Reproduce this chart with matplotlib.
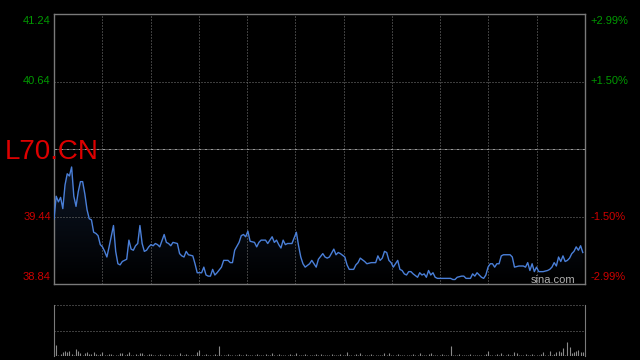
import matplotlib
matplotlib.use("Agg")
import numpy as np
import matplotlib.pyplot as plt
import matplotlib.transforms as mtransforms
from matplotlib.colors import LinearSegmentedColormap

plt.rcParams['font.family'] = ['Liberation Sans', 'DejaVu Sans']

# intraday minute index (0..240) and price
minutes = [0, 1, 2, 3, 4, 5, 6, 7, 8, 9, 10, 11, 12, 13, 14, 15, 16, 17, 18, 19,
           20, 21, 22, 23, 24, 25, 27, 28, 29, 30, 31, 32, 33, 34, 35, 36, 37, 38, 39, 40,
           41, 42, 43, 44, 45, 46, 47, 48, 50, 51, 52, 53, 54, 56, 57, 58, 59, 60, 61, 63,
           64, 65, 66, 67, 68, 69, 70, 71, 72, 73, 74, 76, 77, 79, 80, 81, 82, 84, 85, 86,
           87, 88, 89, 91, 92, 93, 94, 96, 97, 98, 99, 100, 101, 102, 103, 104, 105, 106, 107, 108,
           110, 111, 112, 113, 114, 116, 117, 118, 119, 120, 122, 123, 124, 125, 127, 128, 129, 130, 132, 133,
           134, 136, 137, 138, 139, 141, 142, 144, 146, 147, 148, 149, 150, 151, 152, 153, 154, 156, 157, 158,
           159, 160, 161, 162, 163, 165, 166, 167, 168, 169, 170, 171, 172, 173, 174, 176, 178, 180, 181, 182,
           183, 185, 186, 187, 189, 190, 191, 192, 193, 194, 195, 196, 197, 198, 199, 200, 201, 202, 203, 204,
           206, 207, 208, 209, 211, 213, 214, 215, 216, 217, 218, 219, 220, 222, 224, 225, 226, 227, 228, 229,
           230, 231, 232, 233, 234, 235, 236, 237, 238, 239, 240]
prices = [39.42, 39.62, 39.57, 39.61, 39.51, 39.72, 39.82, 39.80, 39.88, 39.62, 39.53, 39.66, 39.75, 39.75, 39.64, 39.50, 39.42, 39.41, 39.30, 39.29,
          39.27, 39.19, 39.17, 39.13, 39.08, 39.17, 39.36, 39.13, 39.02, 39.01, 39.04, 39.05, 39.06, 39.23, 39.15, 39.14, 39.18, 39.20, 39.36, 39.20,
          39.13, 39.14, 39.17, 39.19, 39.18, 39.20, 39.19, 39.17, 39.28, 39.21, 39.20, 39.18, 39.21, 39.20, 39.11, 39.09, 39.08, 39.13, 39.10, 39.09,
          39.02, 38.94, 38.94, 38.94, 38.99, 38.92, 38.91, 38.91, 38.97, 38.92, 38.94, 38.99, 39.05, 39.05, 39.03, 39.03, 39.14, 39.21, 39.27, 39.28,
          39.26, 39.31, 39.22, 39.21, 39.17, 39.21, 39.23, 39.23, 39.20, 39.23, 39.26, 39.21, 39.23, 39.19, 39.16, 39.23, 39.19, 39.20, 39.20, 39.20,
          39.30, 39.18, 39.08, 39.02, 38.99, 39.02, 39.05, 39.02, 38.99, 39.06, 39.11, 39.08, 39.07, 39.08, 39.15, 39.10, 39.12, 39.11, 39.08, 39.01,
          38.97, 38.97, 39.01, 39.03, 39.07, 39.04, 39.02, 39.03, 39.03, 39.09, 39.05, 39.07, 39.13, 39.12, 39.05, 39.03, 38.99, 39.05, 38.97, 38.96,
          38.93, 38.92, 38.95, 38.95, 38.93, 38.90, 38.94, 38.92, 38.93, 38.90, 38.96, 38.92, 38.94, 38.90, 38.89, 38.89, 38.89, 38.89, 38.88, 38.88,
          38.90, 38.91, 38.91, 38.89, 38.89, 38.93, 38.91, 38.94, 38.92, 38.90, 38.89, 38.92, 38.99, 39.02, 39.02, 38.99, 39.02, 39.02, 39.09, 39.10,
          39.10, 39.10, 39.08, 38.99, 39.00, 39.00, 38.99, 39.03, 38.96, 39.02, 38.95, 38.99, 38.95, 38.95, 38.96, 38.97, 38.99, 39.03, 39.00, 39.08,
          39.04, 39.09, 39.04, 39.05, 39.07, 39.11, 39.13, 39.17, 39.14, 39.18, 39.12]

# per-minute volume (relative units)
volumes = [5, 11, 1, 2, 4, 5, 4, 5, 2, 1, 7, 5, 3, 1, 3, 4, 2, 2, 4, 2,
           1, 2, 4, 1, 1, 2, 2, 1, 1, 1, 3, 3, 1, 2, 4, 1, 1, 2, 1, 3,
           3, 1, 1, 2, 2, 1, 1, 1, 2, 1, 1, 1, 2, 1, 1, 1, 1, 3, 1, 1,
           2, 1, 1, 1, 1, 4, 6, 1, 1, 2, 1, 1, 1, 2, 1, 10, 1, 1, 1, 2,
           1, 1, 1, 1, 2, 1, 1, 2, 1, 1, 1, 1, 2, 1, 1, 1, 2, 1, 1, 3,
           1, 1, 2, 1, 1, 1, 1, 2, 1, 1, 3, 1, 1, 1, 2, 1, 1, 1, 1, 2,
           1, 2, 1, 1, 1, 1, 2, 1, 1, 1, 2, 1, 1, 4, 1, 1, 1, 2, 1, 3,
           1, 1, 1, 1, 2, 1, 1, 1, 1, 1, 3, 1, 3, 1, 1, 1, 2, 1, 1, 1,
           1, 1, 1, 2, 1, 1, 3, 1, 1, 1, 2, 3, 1, 1, 1, 1, 2, 1, 1, 1,
           10, 1, 1, 1, 2, 1, 1, 1, 1, 2, 1, 1, 1, 1, 1, 1, 2, 5, 1, 1,
           1, 2, 1, 3, 1, 1, 2, 1, 1, 4, 3, 1, 1, 1, 2, 1, 1, 2, 1, 1,
           1, 2, 4, 1, 1, 5, 1, 2, 4, 5, 4, 8, 1, 14, 9, 3, 4, 5, 6, 4,
           4]

price_ticks = [38.84, 39.44, 40.04, 40.64, 41.24]
left_labels = ['38.84', '39.44', '', '40.64', '41.24']
right_labels = ['-2.99%', '-1.50%', '', '+1.50%', '+2.99%']
label_colors = ['#cc0000', '#cc0000', '', '#009900', '#009900']
prev_close = 40.04
ticker = 'L70.CN'

grid_c = '#7a7a7a'
fig = plt.figure(figsize=(6.4, 3.6), dpi=100, facecolor='black')

ax = fig.add_axes([54 / 640, 76 / 360, 531 / 640, 270 / 360], facecolor='black')
# gradient area under the line
poly = ax.fill_between(minutes, prices, price_ticks[0], color='none', lw=0)
cmap = LinearSegmentedColormap.from_list('fade', ['#000000', '#0d1626'])
top = max(prices)
grad = ax.imshow(np.linspace(0, 1, 100).reshape(-1, 1), cmap=cmap, aspect='auto',
                 origin='lower', extent=[0, 241, price_ticks[0], top], zorder=1)
grad.set_clip_path(poly.get_paths()[0], transform=ax.transData)
ax.plot(minutes, prices, color='#4a7fd8', lw=1.0, zorder=3)
ax.set_xlim(0, 241)
ax.set_ylim(price_ticks[0], price_ticks[-1])
for s in ax.spines.values():
    s.set_color(grid_c)
    s.set_linewidth(1.0)
for k in range(1, 11):
    ax.axvline(241 * k / 11, color=grid_c, lw=0.72, ls=(0, (1, 2)), zorder=2)
for v in [price_ticks[1], price_ticks[3]]:
    ax.axhline(v, color=grid_c, lw=0.72, ls=(0, (1, 2)), zorder=2)
ax.axhline(prev_close, color='#999999', lw=0.72, ls=(0, (3, 1, 1, 1)), zorder=2)
ax.set_xticks([])
ax.set_yticks([])

trans_l = mtransforms.blended_transform_factory(ax.transAxes, ax.transData)
for i, v in enumerate(price_ticks):
    if not left_labels[i]:
        continue
    va = 'top' if i == len(price_ticks) - 1 else ('bottom' if i == 0 else 'center')
    off = -1.5 if va == 'top' else (1.5 if va == 'bottom' else 0)
    ax.text(-0.006, v + off * 0.0089, left_labels[i], transform=trans_l, ha='right', va=va,
            color=label_colors[i], fontsize=8)
    ax.text(1.01, v + off * 0.0089, right_labels[i], transform=trans_l, ha='left', va=va,
            color=label_colors[i], fontsize=8)

fig.text(5 / 640, 201 / 360, ticker, color='#dd0000', fontsize=20, va='baseline', ha='left')
fig.text(531 / 640, 77 / 360, 'sina.com', color='#b0b0b0', fontsize=8, va='baseline', ha='left')

vax = fig.add_axes([54 / 640, 4 / 360, 531 / 640, 51 / 360], facecolor='black')
vax.vlines(range(len(volumes)), 0, volumes, color='#8a8a8a', lw=0.8)
vax.set_xlim(0, 241)
vax.set_ylim(0, 50)
vax.spines['top'].set_visible(False)
vax.spines['bottom'].set_visible(False)
vax.spines['left'].set_color(grid_c)
vax.spines['right'].set_color(grid_c)
vax.axhline(50, color=grid_c, lw=0.72, ls=(0, (1, 2)), clip_on=False)
vax.axhline(25, color=grid_c, lw=0.72, ls=(0, (1, 2)))
vax.set_xticks([])
vax.set_yticks([])

fig.savefig('out.png', dpi=100, facecolor='black')
